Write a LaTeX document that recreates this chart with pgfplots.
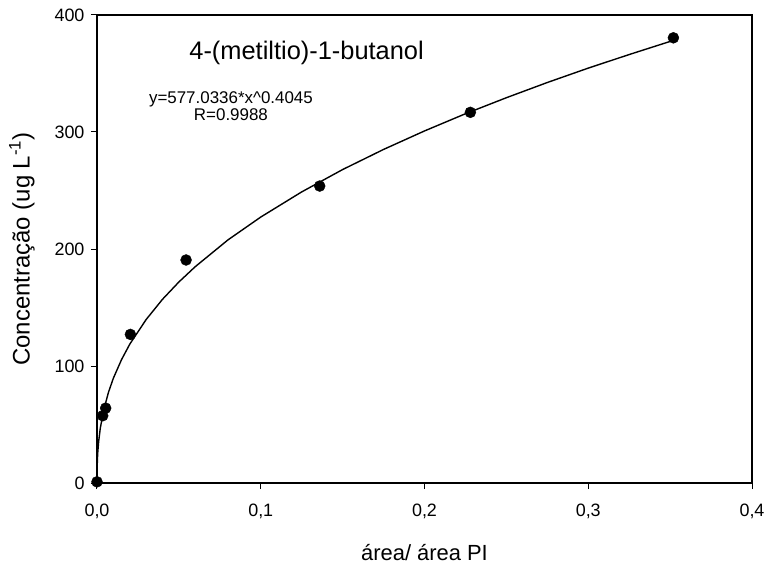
\documentclass[border=0pt]{standalone}
\usepackage{fontspec}
\setmainfont{Liberation Sans}
\usepackage{pgfplots}
\pgfplotsset{compat=1.18}
\begin{document}
\begin{tikzpicture}
\begin{axis}[
  scale only axis,
  width=655bp, height=468bp,
  xmin=0, xmax=0.4, ymin=0, ymax=400,
  xtick={0,0.1,0.2,0.3,0.4},
  ytick={0,100,200,300,400},
  axis line style={line width=1.1bp},
  tick style={line width=1bp, black},
  tick align=outside,
  major tick length=6bp,
  xtick pos=bottom, ytick pos=left,
  xticklabel style={font=\fontsize{18}{21}\selectfont, yshift=-11bp, /pgf/number format/.cd, fixed, fixed zerofill, precision=1, use comma, assume math mode=true},
  yticklabel style={font=\fontsize{18}{21}\selectfont, xshift=-3bp, /pgf/number format/assume math mode=true},
  xlabel={área/ área PI},
  ylabel={Concentração (ug L\textsuperscript{-1})},
  xlabel style={font=\fontsize{22}{25}\selectfont, at={(axis description cs:0.5,-0.1496)}, anchor=center},
  ylabel style={font=\fontsize{24}{27}\selectfont, at={(axis description cs:-0.1145,0.5)}, anchor=center},
  clip=false,
]
\coordinate (sw) at (rel axis cs:0,0);
\coordinate (ne) at (rel axis cs:1,1);
\addplot[black, line width=1.4bp, line join=round] coordinates {
(0,0) (0.00001,5.5) (0.00005,10.5) (0.0001,13.9) (0.0003,21.7) (0.0005,26.7)
(0.001,35.3) (0.002,46.7) (0.004,61.8) (0.007,77.5) (0.01,89.6) (0.015,105.5)
(0.02,118.6) (0.03,139.7) (0.04,157.0) (0.05,171.8) (0.06,184.9) (0.08,207.8)
(0.1,227.3) (0.125,248.8) (0.15,267.9) (0.175,285.1) (0.2,300.9) (0.225,315.6)
(0.25,329.3) (0.275,342.3) (0.3,354.6) (0.325,366.2) (0.352,378.3)
};
\addplot[only marks, mark=*, mark size=5.5bp, black] coordinates {
(0,1) (0.0035,57.5) (0.0053,64) (0.0204,127) (0.0544,190.6) (0.136,253.8) (0.228,316.8) (0.352,380.5)
};
\node[font=\fontsize{25.5}{28}\selectfont] at (axis cs:0.128,368) {4-(metiltio)-1-butanol};
\node[font=\fontsize{17}{17}\selectfont, align=center, inner sep=0pt] at (axis cs:0.0818,322) {y=577.0336*x\^{}0.4045\\R=0.9988};
\end{axis}
\pgfresetboundingbox
\path[use as bounding box] ([shift={(-97bp,-85bp)}]sw) rectangle ([shift={(17bp,15bp)}]ne);
\end{tikzpicture}
\end{document}
